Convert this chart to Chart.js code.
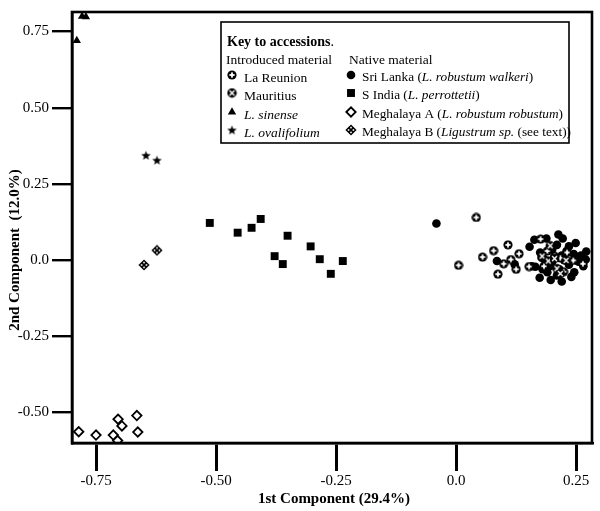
<!DOCTYPE html>
<html>
<head>
<meta charset="utf-8">
<script src="https://cdn.jsdelivr.net/npm/chart.js@4/dist/chart.umd.min.js"></script>
<style>
  html, body { margin: 0; padding: 0; background: #fff; }
</style>
</head>
<body>
<canvas id="pca" width="600" height="511"></canvas>
<script>
// tick values of both axes
const xTicks = [-0.75, -0.5, -0.25, 0, 0.25];
const yTicks = [-0.5, -0.25, 0, 0.25, 0.5, 0.75];

// introduced material
const laReunion = [[0.042,0.140],[0.005,-0.017],[0.055,0.010],[0.078,0.031],[0.108,0.050],[0.131,0.021],
  [0.114,0.002],[0.099,-0.012],[0.125,-0.030],[0.087,-0.046],[0.152,-0.021],[0.176,0.069],[0.264,-0.012],
  [0.244,-0.001],[0.217,0.007],[0.205,0.013],[0.224,-0.038],[0.231,0.025],[0.190,0.030],[0.183,-0.020]];
const mauritius = [[0.196,0.047],[0.179,0.013],[0.192,-0.003],[0.229,-0.001],[0.210,-0.028],[0.217,-0.044],[0.205,0.005]];
const lSinense = [[-0.779,0.800],[-0.771,0.798],[-0.790,0.720]];
const lOvalifolium = [[-0.646,0.344],[-0.623,0.328]];

// native material
const sriLanka = [[-0.041,0.120],[0.085,-0.003],[0.122,-0.014],[0.153,0.044],[0.163,0.067],[0.188,0.071],
  [0.213,0.084],[0.222,0.071],[0.249,0.056],[0.271,0.028],[0.165,-0.022],[0.178,0.008],[0.174,-0.058],
  [0.197,-0.065],[0.220,-0.070],[0.246,-0.040],[0.185,0.000],[0.195,-0.020],[0.205,0.010],[0.215,-0.030],
  [0.225,0.000],[0.235,-0.015],[0.245,0.020],[0.255,-0.005],[0.260,0.015],[0.230,0.030],[0.200,0.035],
  [0.190,-0.040],[0.210,-0.050],[0.240,-0.055],[0.250,0.000],[0.265,-0.020],[0.175,0.025],[0.180,-0.030],
  [0.235,0.045],[0.270,0.002],[0.158,-0.020],[0.200,-0.005],[0.220,0.015],[0.210,0.050]];
const sIndia = [[-0.513,0.122],[-0.455,0.090],[-0.426,0.106],[-0.407,0.135],[-0.351,0.080],[-0.378,0.013],
  [-0.361,-0.013],[-0.303,0.045],[-0.284,0.003],[-0.236,-0.003],[-0.261,-0.045]];
const meghalayaA = [[-0.786,-0.563],[-0.750,-0.574],[-0.714,-0.574],[-0.704,-0.522],[-0.696,-0.544],
  [-0.705,-0.592],[-0.665,-0.510],[-0.663,-0.564]];
const meghalayaB = [[-0.623,0.032],[-0.650,-0.016]];

const serif = '"Liberation Serif", "Times New Roman", serif';

// small canvas used as a point style
function makeMarker(size, draw) {
    const c = document.createElement('canvas');
    c.width = size;
    c.height = size;
    const g = c.getContext('2d');
    g.fillStyle = '#000';
    draw(g, size / 2);
    return c;
}

// black disc with a white plus
const reunionMark = makeMarker(10, (g, c) => {
    g.beginPath();
    g.arc(c, c, 4.6, 0, Math.PI * 2);
    g.fill();
    g.fillStyle = '#fff';
    g.fillRect(c - 0.9, c - 2.6, 1.8, 5.2);
    g.fillRect(c - 2.6, c - 0.9, 5.2, 1.8);
});

// black disc with a white cross
const mauritiusMark = makeMarker(11, (g, c) => {
    g.beginPath();
    g.arc(c, c, 4.7, 0, Math.PI * 2);
    g.fill();
    g.strokeStyle = '#fff';
    g.lineWidth = 1.4;
    g.beginPath();
    g.moveTo(c - 2.4, c - 2.4); g.lineTo(c + 2.4, c + 2.4);
    g.moveTo(c + 2.4, c - 2.4); g.lineTo(c - 2.4, c + 2.4);
    g.stroke();
});

// filled five point star
const starMark = makeMarker(11, (g, c) => {
    g.beginPath();
    for (let i = 0; i < 10; i++) {
        const r = i % 2 === 0 ? 5 : 2.1;
        const a = -Math.PI / 2 + i * Math.PI / 5;
        g.lineTo(c + r * Math.cos(a), c + 0.5 + r * Math.sin(a));
    }
    g.closePath();
    g.fill();
});

// black diamond with white checks
const checkMark = makeMarker(12, (g, c) => {
    g.beginPath();
    g.moveTo(c, c - 5.6); g.lineTo(c + 5.6, c); g.lineTo(c, c + 5.6); g.lineTo(c - 5.6, c);
    g.closePath();
    g.fill();
    g.fillStyle = '#fff';
    [[0, -2.4], [2.4, 0], [0, 2.4], [-2.4, 0]].forEach(([dx, dy]) => {
        g.fillRect(c + dx - 0.8, c + dy - 0.8, 1.6, 1.6);
    });
});

function toPoints(arr) {
    return arr.map(([x, y]) => ({ x, y }));
}

// one dataset per accession (first drawn on top)
const datasets = [
    { label: 'Mauritius', data: toPoints(mauritius), pointStyle: mauritiusMark },
    { label: 'La Reunion', data: toPoints(laReunion), pointStyle: reunionMark },
    { label: 'Sri Lanka', data: toPoints(sriLanka), pointStyle: 'circle', pointRadius: 4.3,
      backgroundColor: '#000', borderColor: '#000', borderWidth: 0 },
    { label: 'L. sinense', data: toPoints(lSinense), pointStyle: 'triangle', pointRadius: 4.8,
      backgroundColor: '#000', borderColor: '#000', borderWidth: 0 },
    { label: 'L. ovalifolium', data: toPoints(lOvalifolium), pointStyle: starMark },
    { label: 'S India', data: toPoints(sIndia), pointStyle: 'rect', pointRadius: 5.6,
      backgroundColor: '#000', borderColor: '#000', borderWidth: 0 },
    { label: 'Meghalaya A', data: toPoints(meghalayaA), pointStyle: 'rectRot', pointRadius: 4.7,
      backgroundColor: '#fff', borderColor: '#000', borderWidth: 1.8 },
    { label: 'Meghalaya B', data: toPoints(meghalayaB), pointStyle: checkMark }
];

// legend rows: [dataset label, text segments [text, italic]]
const introducedRows = [
    ['La Reunion', [['La Reunion', false]]],
    ['Mauritius', [['Mauritius', false]]],
    ['L. sinense', [['L. sinense', true]]],
    ['L. ovalifolium', [['L. ovalifolium', true]]]
];
const nativeRows = [
    ['Sri Lanka', [['Sri Lanka (', false], ['L. robustum walkeri', true], [')', false]]],
    ['S India', [['S India (', false], ['L. perrottetii', true], [')', false]]],
    ['Meghalaya A', [['Meghalaya A (', false], ['L. robustum robustum', true], [')', false]]],
    ['Meghalaya B', [['Meghalaya B (', false], ['Ligustrum sp.', true], [' (see text))', false]]]
];

// text with italic parts
function drawRich(ctx, segs, x, y, size) {
    segs.forEach(([text, italic]) => {
        ctx.font = (italic ? 'italic ' : '') + size + 'px ' + serif;
        ctx.fillText(text, x, y);
        x += ctx.measureText(text).width;
    });
}

// draw one legend marker like the dataset
function drawMarker(ctx, label, x, y) {
    const ds = datasets.find(d => d.label === label);
    ctx.fillStyle = ds.backgroundColor || '#000';
    ctx.strokeStyle = ds.borderColor || '#000';
    ctx.lineWidth = ds.borderWidth || 0;
    Chart.helpers.drawPoint(ctx, {
        pointStyle: ds.pointStyle,
        radius: ds.pointRadius || 4,
        rotation: 0,
        borderWidth: ds.borderWidth || 0
    }, x, y);
}

// frame, axis titles and key
const decorations = {
    id: 'decorations',
    afterDraw(chart) {
        const ctx = chart.ctx;
        const a = chart.chartArea;
        ctx.save();

        // box round the plot
        ctx.strokeStyle = '#000';
        ctx.lineWidth = 2.6;
        ctx.strokeRect(a.left, a.top, a.right - a.left, a.bottom - a.top);

        // axis titles
        ctx.fillStyle = '#000';
        ctx.font = 'bold 15px ' + serif;
        ctx.textAlign = 'center';
        ctx.textBaseline = 'middle';
        ctx.fillText('1st Component (29.4%)', (a.left + a.right) / 2 + 2, 499);
        ctx.save();
        ctx.translate(15, 250);
        ctx.rotate(-Math.PI / 2);
        ctx.fillText('2nd Component  (12.0%)', 0, 0);
        ctx.restore();

        // key box
        ctx.fillStyle = '#fff';
        ctx.fillRect(221, 22, 348, 121);
        ctx.lineWidth = 1.6;
        ctx.strokeRect(221, 22, 348, 121);

        ctx.fillStyle = '#000';
        ctx.textAlign = 'left';
        ctx.textBaseline = 'middle';
        ctx.font = 'bold 14px ' + serif;
        ctx.fillText('Key to accessions', 227, 42);
        const w = ctx.measureText('Key to accessions').width;
        ctx.font = '14px ' + serif;
        ctx.fillText('.', 227 + w, 42);
        ctx.font = '13.5px ' + serif;
        ctx.fillText('Introduced material', 226, 60);
        ctx.fillText('Native material', 349, 60);

        const rowY = [78, 96, 115, 133];
        introducedRows.forEach(([label, segs], i) => {
            drawMarker(ctx, label, 232, rowY[i] - 3);
            ctx.fillStyle = '#000';
            drawRich(ctx, segs, 244, rowY[i], 13.5);
        });
        nativeRows.forEach(([label, segs], i) => {
            drawMarker(ctx, label, 351, rowY[i] - 3);
            ctx.fillStyle = '#000';
            drawRich(ctx, segs, 362, rowY[i], 13.3);
        });
        ctx.restore();
    }
};

function tickLabel(v) {
    return v === 0 ? '0.0' : v.toFixed(2);
}

new Chart(document.getElementById('pca'), {
    type: 'scatter',
    data: { datasets: datasets },
    options: {
        responsive: false,
        animation: false,
        layout: { padding: { left: 0, top: 3, right: 8, bottom: 0 } },
        plugins: { legend: { display: false }, tooltip: { enabled: false } },
        scales: {
            x: {
                type: 'linear',
                min: -0.8,
                max: 0.283,
                afterBuildTicks: scale => { scale.ticks = xTicks.map(v => ({ value: v })); },
                afterFit: scale => { scale.height = 68; },
                grid: { drawOnChartArea: false, tickLength: 28, lineWidth: 3, color: '#000' },
                border: { display: true, width: 2.6, color: '#000' },
                ticks: { callback: tickLabel, padding: 1, color: '#000', maxRotation: 0,
                         font: { family: serif, size: 15 } }
            },
            y: {
                type: 'linear',
                min: -0.6,
                max: 0.814,
                afterBuildTicks: scale => { scale.ticks = yTicks.map(v => ({ value: v })); },
                afterFit: scale => { scale.width = 72; },
                grid: { drawOnChartArea: false, tickLength: 20, lineWidth: 2.4, color: '#000' },
                border: { display: true, width: 2.6, color: '#000' },
                ticks: { callback: tickLabel, padding: 3, color: '#000',
                         font: { family: serif, size: 15 } }
            }
        }
    },
    plugins: [decorations]
});
</script>
</body>
</html>
